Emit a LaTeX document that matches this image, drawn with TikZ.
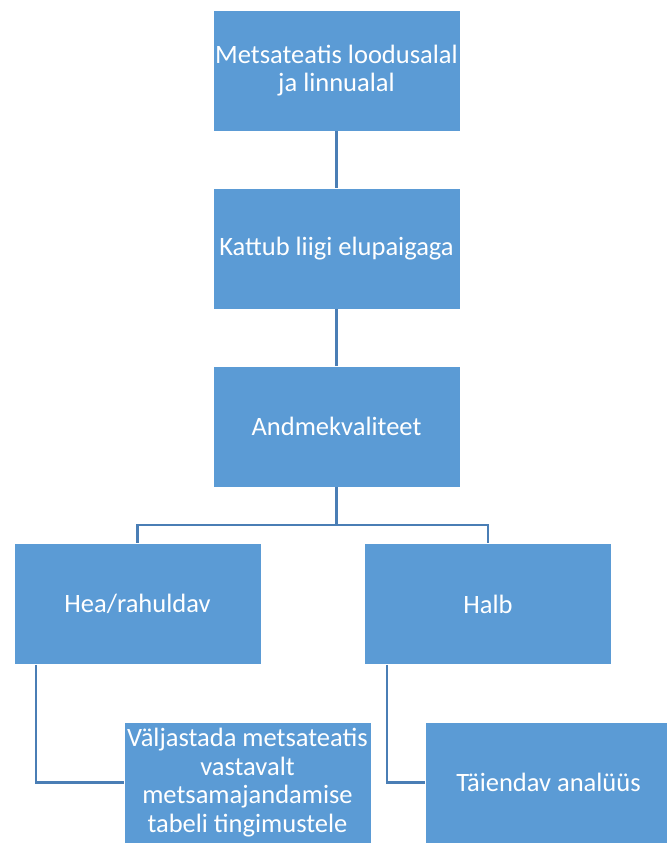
\documentclass[tikz,border=0pt]{standalone}
\usepackage{fontspec}
\setmainfont{Carlito}
\usetikzlibrary{calc}

\definecolor{boxblue}{HTML}{5B9BD5}
\definecolor{linkblue}{HTML}{4A7EB5}

\begin{document}
\begin{tikzpicture}[
  x=1pt, y=-1pt,
  every node/.style={rectangle, draw=white, line width=0.8pt, fill=boxblue,
    minimum width=247pt, minimum height=121pt,
    align=center, inner sep=1pt, text=white,
    font=\fontsize{26.5}{28.5}\selectfont},
  link/.style={draw=linkblue, line width=2.6pt}
]
\useasboundingbox (0,0) rectangle (667,844);
\fill[white] (0,0) rectangle (667,844);
\clip (0,0) rectangle (667,844);

% main column
\node (metsa) at (336.5,70.5) {Metsateatis loodusalal\\ja linnualal};
\node (kattub) at (336.5,248.5) {Kattub liigi elupaigaga};
\node (andmed) at (336.5,426.5) {Andmekvaliteet};

% branches
\node (hea) at (137.5,604) {Hea/rahuldav};
\node (halb) at (488,604) {Halb};
\node (valjasta) at (247.5,782.5) {Väljastada metsateatis\\vastavalt\\metsamajandamise\\tabeli tingimustele};
\node (taiendav) at (548.5,782.5) {Täiendav analüüs};

\coordinate (split) at (336.5,525);

\draw[link] (metsa) -- (kattub);
\draw[link] (kattub) -- (andmed);
\draw[link] (andmed) -- (split);
\draw[link] (split) -| (hea);
\draw[link] (split) -| (halb);
\draw[link] ([xshift=-101.5pt]hea.south) |- (valjasta.west);
\draw[link] ([xshift=-101pt]halb.south) |- (taiendav.west);
\end{tikzpicture}
\end{document}
